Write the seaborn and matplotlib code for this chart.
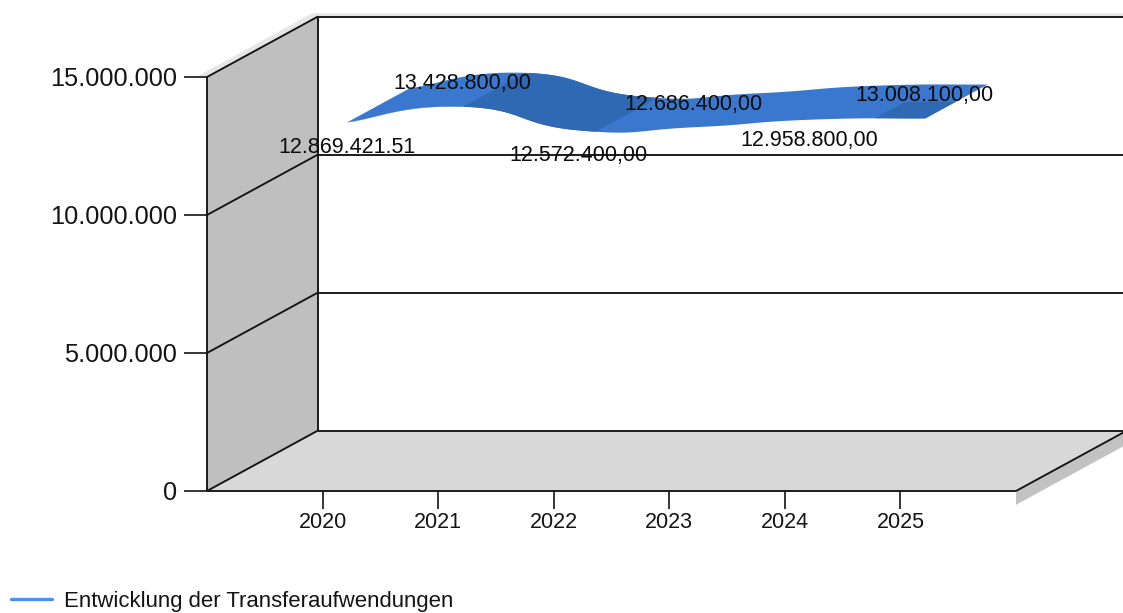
import numpy as np
import pandas as pd
import matplotlib
matplotlib.use('Agg')
import matplotlib.pyplot as plt
from matplotlib.lines import Line2D
import seaborn as sns

# --- DATA ---
years = [2020, 2021, 2022, 2023, 2024, 2025]
values = [12869421.51, 13428800.00, 12572400.00, 12686400.00, 12958800.00, 13008100.00]
value_labels = ['12.869.421.51', '13.428.800,00', '12.572.400,00',
                '12.686.400,00', '12.958.800,00', '13.008.100,00']
y_ticks = [0, 5000000, 10000000, 15000000]
legend_label = 'Entwicklung der Transferaufwendungen'

# --- STYLE ---
sns.set_theme(style='white')
plt.rcParams['font.family'] = ['Liberation Sans', 'DejaVu Sans']

W, H = 1123, 613
LIGHT = '#3a78cf'
DARK = '#2f68b3'
LINE = '#141414'

# depth of the fake 3d box, in data units
X0, X1 = 2019, 2026
YMAX = 15000000
DEPTH_X = 111 / (809 / 7)
DEPTH_Y = 60.5 / (414 / YMAX)


def project(x, y, d):
    """Data point at depth d (0 = front plane, 1 = back wall)."""
    return np.asarray(x) + d * DEPTH_X, np.asarray(y) + d * DEPTH_Y


def spline(xs, ys, tension=0.8, n=60):
    """Cardinal spline through the points, same as the original chart type."""
    p = np.column_stack([xs, ys]).astype(float)
    prev_p = np.vstack([p[0], p[:-1]])
    next_p = np.vstack([p[1:], p[-1]])
    m = tension / 3 * (next_p - prev_p)
    out = []
    t = np.linspace(0, 1, n)[:, None]
    for i in range(len(p) - 1):
        a, b = p[i], p[i] + m[i]
        c, d = p[i + 1] - m[i + 1], p[i + 1]
        out.append((1 - t) ** 3 * a + 3 * (1 - t) ** 2 * t * b + 3 * (1 - t) * t ** 2 * c + t ** 3 * d)
    return np.vstack(out)


fig = plt.figure(figsize=(W / 100, H / 100), dpi=100, facecolor='white')
ax = fig.add_axes([207 / W, (H - 491) / H, 809 / W, 414 / H])
ax.set_xlim(X0, X1)
ax.set_ylim(0, YMAX)
ax.patch.set_alpha(0)
sns.despine(ax=ax, left=True, bottom=True, right=True, top=True)


def poly(points, color, z):
    xy = [project(*pt) for pt in points]
    ax.fill([q[0] for q in xy], [q[1] for q in xy], color=color, lw=0, zorder=z, clip_on=False)


def seg(a, b, z=3, lw=1.35):
    pa, pb = project(*a), project(*b)
    ax.plot([pa[0], pb[0]], [pa[1], pb[1]], color=LINE, lw=lw, zorder=z, clip_on=False,
            solid_capstyle='butt')


# --- BOX ---
poly([(X0, 0, 0), (X1, 0, 0), (X1, 0, 1), (X0, 0, 1)], '#d8d8d8', 1)
poly([(X0, 0, 0), (X0, YMAX, 0), (X0, YMAX, 1), (X0, 0, 1)], '#bfbfbf', 1)
# soft shadows
poly([(X1, 0, 0), (X1, -500000, 0), (X1, -500000, 1), (X1, 0, 1)], '#c2c2c2', 1)
poly([(X0, YMAX, 0), (X0 - 0.08, YMAX + 30000, 0), (X0 - 0.05, YMAX + 120000, 1),
      (X1, YMAX + 120000, 1), (X1, YMAX, 1), (X0, YMAX, 1)], '#e6e6e6', 0.5)

for v in y_ticks:
    seg((X0, v, 0), (X0, v, 1))
    seg((X0, v, 1), (X1, v, 1))
seg((X0, 0, 0), (X0, YMAX, 0))
seg((X0, 0, 1), (X0, YMAX, 1))
seg((X0, 0, 0), (X1, 0, 0))
seg((X1, 0, 0), (X1, 0, 1))

# --- RIBBON ---
D_FRONT, D_BACK = 0.225, 0.785
curve = spline(years, values)


def ribbon_piece(start, stop, color, d_front=D_FRONT, d_back=D_BACK):
    c = curve[(curve[:, 0] >= start) & (curve[:, 0] <= stop)]
    fx, fy = project(c[:, 0], c[:, 1], d_front)
    bx, by = project(c[:, 0], c[:, 1], d_back)
    ax.fill(np.r_[fx, bx[::-1]], np.r_[fy, by[::-1]], color=color, lw=0, zorder=4, clip_on=False)


# whole ribbon first so no seams show between the shaded parts
ribbon_piece(2020, 2025, LIGHT)
ribbon_piece(2021.0, 2022.15, DARK)
ribbon_piece(2024.55, 2025, DARK, d_back=0.5)

edge_x, edge_y = project(curve[:, 0], curve[:, 1], D_FRONT)
front_edge = pd.DataFrame({'x': edge_x[curve[:, 0] < 2021], 'y': edge_y[curve[:, 0] < 2021]})
sns.lineplot(data=front_edge, x='x', y='y', color=LIGHT, lw=0.3, sort=False, estimator=None,
             ax=ax, zorder=4, legend=False)

# --- VALUE LABELS ---
label_x, label_y = project(years, values, D_FRONT)
offsets = [-25, 23, -25, 23, -21, 23]
for lx, ly, text, off in zip(label_x, label_y, value_labels, offsets):
    ax.annotate(text, (lx, ly), xytext=(-0.5, off * 0.72), textcoords='offset points',
                ha='center', va='center', fontsize=15.5, color='#0c0c0c', zorder=6,
                annotation_clip=False)

# --- AXES ---
ax.set_xlabel('')
ax.set_ylabel('')
ax.set_xticks(years)
ax.set_xticklabels([str(y) for y in years], fontsize=15.5, color='#141414')
ax.set_yticks(y_ticks)
ax.set_yticklabels([f'{v:,.0f}'.replace(',', '.') for v in y_ticks], fontsize=18.3, color='#141414')
ax.tick_params(axis='x', length=13, width=1.2, color=LINE, pad=2.2, bottom=True)
ax.tick_params(axis='y', length=16.5, width=1.2, color=LINE, pad=5, left=True)

# --- LEGEND ---
handle = Line2D([], [], color='#4a90ee', lw=2.4)
fig.legend([handle], [legend_label], loc='lower left', bbox_to_anchor=(-0.001, -0.018), frameon=False,
           fontsize=15.9, handlelength=1.85, handletextpad=0.55, borderpad=0.2, borderaxespad=0.35,
           labelcolor='#141414')

fig.savefig('out.png', dpi=100)
